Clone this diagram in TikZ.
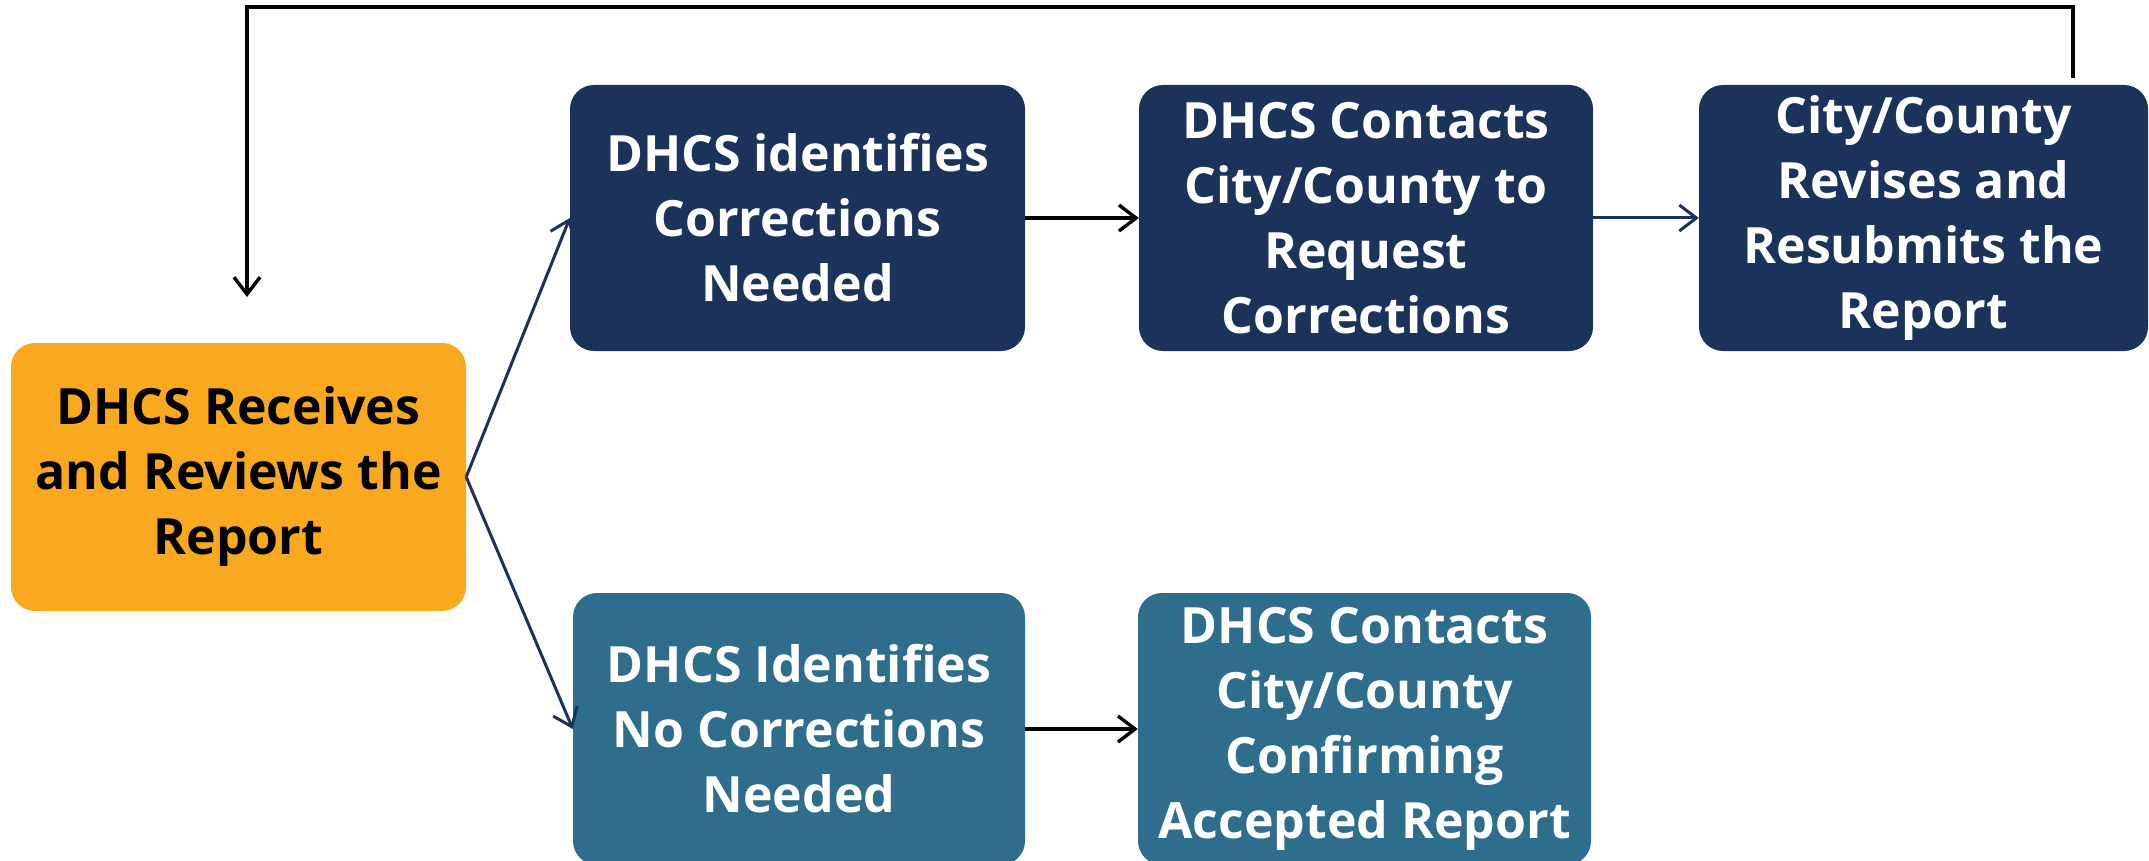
\documentclass[tikz,border=0pt]{standalone}
\usepackage{fontspec}
\setmainfont{Open Sans}
\usetikzlibrary{arrows.meta}
\definecolor{cOrange}{HTML}{F8A91F}
\definecolor{cNavy}{HTML}{1B325B}
\definecolor{cTeal}{HTML}{2E6E8C}
\tikzset{
  box/.style={rectangle, rounded corners=24pt, inner sep=0pt, align=center,
    font=\fontsize{50}{65}\selectfont\bfseries},
  orangebox/.style={box, fill=cOrange, text=black},
  navybox/.style={box, fill=cNavy, text=white},
  tealbox/.style={box, fill=cTeal, text=white},
  tip/.style={-{Straight Barb[length=17pt,width=26pt]}},
  blackarrow/.style={tip, draw=black, line width=3.4pt},
  navyarrow/.style={tip, draw=cNavy, line width=3pt},
}
\begin{document}
\begin{tikzpicture}[x=1pt,y=-1pt]
\useasboundingbox (0,0) rectangle (2149,861);
\fill[white] (0,0) rectangle (2149,861);
\node[orangebox, minimum width=455pt, minimum height=268pt] (rev) at (238.5,477)
  {DHCS Receives\\and Reviews the\\Report};
\node[navybox, minimum width=455pt, minimum height=266pt] (corr) at (797.5,218)
  {DHCS identifies\\Corrections\\Needed};
\node[navybox, minimum width=454pt, minimum height=266pt] (cont) at (1366,218)
  {DHCS Contacts\\City/County to\\Request\\Corrections};
\node[navybox, minimum width=449pt, minimum height=266pt] (revise) at (1923.5,218)
  {City/County\\Revises and\\Resubmits the\\Report};
\node[tealbox, minimum width=452pt, minimum height=272pt] (nocorr) at (799,729)
  {DHCS Identifies\\No Corrections\\Needed};
\node[tealbox, minimum width=453pt, minimum height=272pt] (conf) at (1364.5,729)
  {DHCS Contacts\\City/County\\Confirming\\Accepted Report};
\coordinate (fbx) at (2073,0);
\coordinate (fbtop) at (247,7);
\coordinate (fbend) at (247,297);
\draw[navyarrow] (rev.east) -- (corr.west);
\draw[navyarrow] (rev.east) -- (nocorr.west);
\draw[blackarrow] (corr.east) -- (cont.west);
\draw[navyarrow] (cont.east) -- (revise.west);
\draw[blackarrow] (nocorr.east) -- (conf.west);
\draw[blackarrow, shorten <=7pt] (revise.north -| fbx) |- (fbtop) -- (fbend);
\end{tikzpicture}
\end{document}
